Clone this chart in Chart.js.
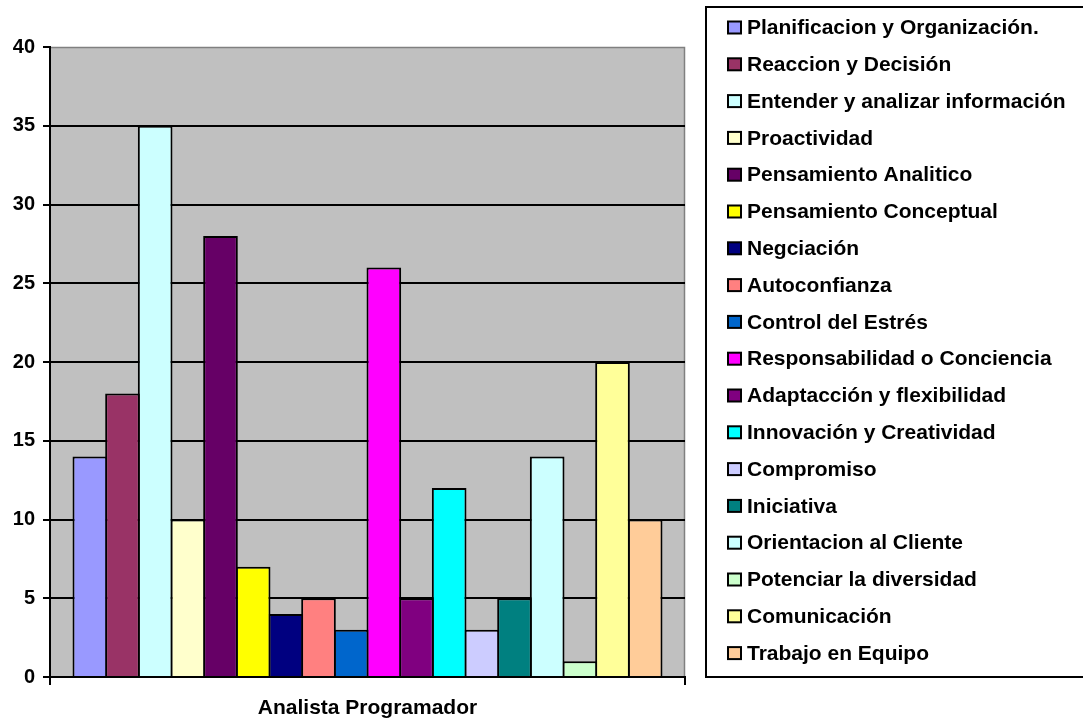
<!DOCTYPE html>
<html>
<head>
<meta charset="utf-8">
<script src="https://cdn.jsdelivr.net/npm/chart.js@4/dist/chart.umd.min.js"></script>
<style>
  html, body { margin: 0; padding: 0; background: #ffffff; }
  #wrap { width: 1083px; height: 722px; position: relative; }
</style>
</head>
<body>
<div id="wrap"><canvas id="c" width="1083" height="722"></canvas></div>
<script>
// Category on the x axis
const categories = ['Analista Programador'];

// Competency names (one series each)
const seriesNames = [
  'Planificacion y Organización.',
  'Reaccion y Decisión',
  'Entender y analizar información',
  'Proactividad',
  'Pensamiento Analitico',
  'Pensamiento Conceptual',
  'Negciación',
  'Autoconfianza',
  'Control del Estrés',
  'Responsabilidad o Conciencia',
  'Adaptacción y flexibilidad',
  'Innovación y Creatividad',
  'Compromiso',
  'Iniciativa',
  'Orientacion al Cliente',
  'Potenciar la diversidad',
  'Comunicación',
  'Trabajo en Equipo'
];

// Score for each competency
const seriesValues = [14, 18, 35, 10, 28, 7, 4, 5, 3, 26, 5, 12, 3, 5, 14, 1, 20, 10];

// Fill colour for each competency
const seriesColors = [
  '#9999FF', '#993366', '#CCFFFF', '#FFFFCC', '#660066', '#FFFF00',
  '#000080', '#FF8080', '#0066CC', '#FF00FF', '#800080', '#00FFFF',
  '#CCCCFF', '#008080', '#CCFFFF', '#CCFFCC', '#FFFF99', '#FFCC99'
];

// Value axis ticks
const yTicks = [0, 5, 10, 15, 20, 25, 30, 35, 40];

const FONT = '"Liberation Sans", Arial, sans-serif';

const datasets = seriesNames.map((name, i) => ({
  label: name,
  data: [seriesValues[i]],
  backgroundColor: seriesColors[i],
  borderColor: '#000000',
  borderWidth: 2,
  borderSkipped: 'start',
  barPercentage: 1.061,
  categoryPercentage: 0.926
}));

// Grey plot background with a thin darker frame on top and right
const plotBackground = {
  id: 'plotBackground',
  beforeDraw(chart) {
    const { ctx, chartArea: a } = chart;
    ctx.save();
    ctx.fillStyle = '#C0C0C0';
    ctx.fillRect(a.left, a.top, a.right - a.left, a.bottom - a.top);
    ctx.strokeStyle = '#808080';
    ctx.lineWidth = 1.5;
    ctx.beginPath();
    ctx.moveTo(a.left, a.top + 0.5);
    ctx.lineTo(a.right - 0.5, a.top + 0.5);
    ctx.lineTo(a.right - 0.5, a.bottom);
    ctx.stroke();
    ctx.restore();
  }
};

// Boxed legend on the right listing every series
const boxedLegend = {
  id: 'boxedLegend',
  afterDraw(chart) {
    const { ctx } = chart;
    const ds = chart.data.datasets;
    const boxL = 706, boxT = 7, boxB = 677;
    ctx.save();
    ctx.strokeStyle = '#000000';
    ctx.lineWidth = 2;
    ctx.strokeRect(boxL, boxT, 1083 - boxL + 10, boxB - boxT);
    const first = 27.5, step = 36.8;
    ctx.font = 'bold 21px ' + FONT;
    ctx.textBaseline = 'middle';
    ctx.textAlign = 'left';
    ds.forEach((d, i) => {
      const cy = first + i * step;
      ctx.fillStyle = '#000000';
      ctx.fillRect(727, cy - 7, 15, 14);
      ctx.fillStyle = d.backgroundColor;
      ctx.fillRect(729, cy - 5, 11, 10);
      ctx.fillStyle = '#000000';
      ctx.fillText(d.label, 747, cy + 1);
    });
    ctx.restore();
  }
};

new Chart(document.getElementById('c'), {
  type: 'bar',
  data: { labels: categories, datasets },
  options: {
    responsive: false,
    animation: false,
    layout: { padding: { top: 47, right: 398, left: 0, bottom: 0 } },
    plugins: { legend: { display: false }, tooltip: { enabled: false } },
    scales: {
      x: {
        afterFit(scale) { scale.height = 45; },
        grid: {
          offset: true,
          drawOnChartArea: false,
          drawTicks: true,
          tickLength: 8,
          color: '#000000',
          lineWidth: 2
        },
        border: { display: true, color: '#000000', width: 2 },
        ticks: {
          color: '#000000',
          padding: 11,
          font: { family: FONT, size: 21, weight: 'bold' }
        }
      },
      y: {
        min: 0,
        max: 40,
        afterFit(scale) { scale.width = 50; },
        afterBuildTicks(scale) { scale.ticks = yTicks.map(v => ({ value: v })); },
        grid: {
          color: (c) => (c.tick && c.tick.value === 40 ? 'rgba(0,0,0,0)' : '#000000'),
          tickColor: '#000000',
          lineWidth: 2,
          drawTicks: true,
          tickLength: 7
        },
        border: { display: true, color: '#000000', width: 2 },
        ticks: {
          color: '#000000',
          padding: 8,
          font: { family: FONT, size: 20, weight: 'bold' }
        }
      }
    }
  },
  plugins: [plotBackground, boxedLegend]
});
</script>
</body>
</html>
